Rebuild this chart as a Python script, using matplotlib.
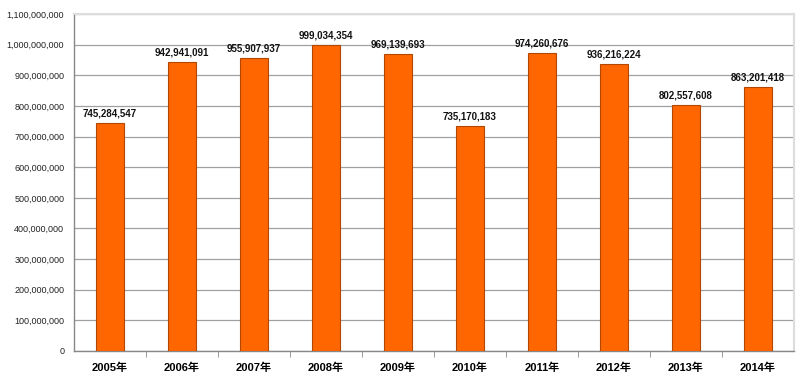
import matplotlib
matplotlib.use("Agg")
import matplotlib.pyplot as plt
from matplotlib.ticker import FuncFormatter, FixedLocator
import numpy as np

plt.rcParams['font.family'] = ['Liberation Sans', 'Noto Sans CJK JP']

years = ["2005年", "2006年", "2007年", "2008年", "2009年",
         "2010年", "2011年", "2012年", "2013年", "2014年"]
values = [745284547, 942941091, 955907937, 999034354, 969139693,
          735170183, 974260676, 936216224, 802557608, 863201418]

fig = plt.figure(figsize=(8, 3.81), dpi=100)
ax = fig.add_axes([74/800, 1 - 351/381, (794-74)/800, (351-14)/381])

x = np.arange(len(years))
ax.bar(x, values, width=0.39, color="#FF6600", edgecolor="#B34700", linewidth=0.8, zorder=3)

for xi, v in zip(x, values):
    ax.text(xi, v + 14000000, f"{v:,}", ha="center", va="bottom",
            fontsize=7, fontweight="bold", color="#111111")

ax.set_xlim(-0.5, len(years) - 0.5)
ax.set_ylim(0, 1100000000)
ax.set_yticks(np.arange(0, 1100000001, 100000000))
ax.yaxis.set_major_formatter(FuncFormatter(lambda v, p: f"{int(v):,}"))
ax.tick_params(axis="y", length=0, labelsize=6.5, pad=7, colors="#222222")
ax.grid(axis="y", color="#A0A0A0", linewidth=0.9, zorder=0)

ax.set_xticks(x)
ax.set_xticklabels(years, fontsize=8, fontweight="bold")
ax.tick_params(axis="x", length=0, pad=8)
ax.xaxis.set_minor_locator(FixedLocator(np.arange(0.5, len(years) - 1, 1.0)))
ax.tick_params(axis="x", which="minor", length=4, color="#888888", direction="out")

for s in ["left", "bottom"]:
    ax.spines[s].set_color("#888888")
    ax.spines[s].set_linewidth(1.0)
for s in ["top", "right"]:
    ax.spines[s].set_color("#DDDDDD")
    ax.spines[s].set_linewidth(1.5)

fig.savefig("out.png", dpi=100)
